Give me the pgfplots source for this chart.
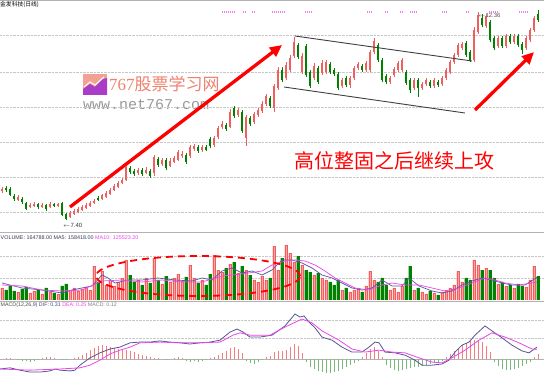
\documentclass[border=0pt]{standalone}
\usepackage{pgfplots}
\pgfplotsset{compat=1.18}
\usepackage{pgfplotstable}
\usetikzlibrary{arrows.meta}
\usepackage{fontspec}
\setmainfont{Liberation Sans}
\newfontfamily\cjk{Noto Sans CJK SC}
\newfontfamily\monof{Liberation Mono}
\newfontfamily\seriff{Liberation Serif}
\definecolor{cred}{RGB}{240,95,95}
\definecolor{cpink}{RGB}{255,160,160}
\definecolor{cgreen}{RGB}{0,130,0}
\definecolor{cmg}{RGB}{235,70,235}
\definecolor{cnavy}{RGB}{90,90,160}
\definecolor{cgrid}{RGB}{200,200,200}
\definecolor{mgreen}{RGB}{120,185,120}
\definecolor{mred}{RGB}{245,125,125}
\definecolor{wm}{RGB}{238,130,110}
\definecolor{logop}{RGB}{170,60,200}
\definecolor{voltxt}{RGB}{60,60,90}
\definecolor{difc}{RGB}{85,85,145}
\definecolor{diftxt}{RGB}{70,70,120}

\pgfplotstableread{
i o h l c v
0 8.10 8.19 8.05 8.14 84000
4 7.88 8.00 7.86 7.95 56000
7 7.71 7.81 7.69 7.76 49000
8 7.74 7.83 7.71 7.78 63000
10 7.71 7.81 7.69 7.76 42000
12 7.71 7.83 7.69 7.78 56000
14 7.74 7.81 7.71 7.78 42000
17 7.47 7.62 7.45 7.57 70000
18 7.54 7.66 7.52 7.62 84000
19 7.59 7.71 7.57 7.66 63000
20 7.64 7.76 7.62 7.71 77000
21 7.69 7.81 7.66 7.76 91000
22 7.74 7.86 7.71 7.81 70000
23 7.81 7.90 7.78 7.86 238000
25 7.90 8.02 7.88 8.00 203000
26 7.95 8.10 7.93 8.05 105000
27 8.02 8.17 8.00 8.12 140000
28 8.12 8.26 8.10 8.22 98000
29 8.19 8.34 8.17 8.29 126000
30 8.29 8.41 8.26 8.36 154000
31 8.36 8.72 8.34 8.67 280000
34 8.53 8.65 8.48 8.60 140000
36 8.53 8.67 8.50 8.60 154000
38 8.53 8.96 8.46 8.91 294000
40 8.74 8.89 8.70 8.84 112000
42 8.70 8.89 8.67 8.82 126000
43 8.79 8.94 8.77 8.89 154000
44 8.84 9.08 8.82 9.03 182000
45 8.94 9.06 8.89 8.98 133000
47 8.94 9.20 8.89 9.15 245000
48 9.10 9.22 9.06 9.18 154000
50 9.08 9.20 9.03 9.15 140000
53 9.20 9.42 9.15 9.37 315000
54 9.39 9.66 9.34 9.61 210000
55 9.63 9.78 9.58 9.70 196000
57 9.63 10.06 9.61 9.99 252000
59 9.92 10.09 9.87 10.04 189000
61 9.37 9.92 9.18 9.87 210000
63 9.75 9.99 9.70 9.94 140000
64 9.92 10.09 9.87 10.04 126000
65 10.02 10.26 9.97 10.18 168000
66 10.18 10.42 10.14 10.38 140000
68 10.09 10.66 9.99 10.62 378000
69 10.57 11.07 10.52 11.00 210000
71 10.81 11.19 10.76 11.12 385000
72 11.00 11.36 10.95 11.29 329000
73 11.34 11.79 11.29 11.67 266000
75 10.95 11.41 10.90 11.34 245000
78 10.81 11.17 10.76 11.10 175000
80 10.93 11.24 10.88 11.17 154000
81 10.95 11.24 10.90 11.19 140000
85 10.62 10.81 10.57 10.76 70000
87 10.64 10.86 10.57 10.81 56000
88 10.81 11.10 10.76 11.05 70000
89 11.05 11.19 11.00 11.14 84000
91 11.00 11.22 10.95 11.17 98000
92 11.00 11.48 10.95 11.43 203000
93 11.43 11.77 11.38 11.70 140000
97 10.71 10.86 10.66 10.81 70000
98 10.88 11.07 10.83 11.02 84000
99 11.00 11.22 10.95 11.17 56000
100 11.00 11.29 10.95 11.24 98000
103 10.57 10.81 10.52 10.76 70000
105 10.57 10.71 10.52 10.66 56000
106 10.66 10.81 10.62 10.76 42000
108 10.62 10.81 10.57 10.76 49000
110 10.66 10.86 10.62 10.81 56000
111 10.81 11.05 10.76 11.00 70000
112 10.95 11.24 10.90 11.19 84000
113 11.19 11.41 11.14 11.36 105000
114 11.36 11.65 11.31 11.60 203000
115 11.53 11.67 11.48 11.62 126000
118 11.24 12.03 11.19 11.96 280000
119 11.91 12.39 11.86 12.32 245000
121 12.06 12.34 12.01 12.30 224000
124 11.58 11.82 11.53 11.77 112000
126 11.58 11.86 11.53 11.82 98000
128 11.67 11.86 11.62 11.82 84000
131 11.53 11.82 11.48 11.77 91000
132 11.72 12.01 11.67 11.96 140000
133 11.96 12.30 11.91 12.25 238000
}\up

\pgfplotstableread{
i o h l c v
1 8.17 8.22 8.07 8.12 70000
2 8.14 8.19 7.98 8.00 98000
3 7.98 8.02 7.86 7.90 63000
5 7.90 7.95 7.78 7.83 77000
6 7.81 7.83 7.64 7.66 91000
9 7.78 7.81 7.66 7.71 70000
11 7.76 7.78 7.62 7.66 84000
13 7.78 7.81 7.71 7.74 49000
15 7.81 7.83 7.50 7.52 98000
16 7.54 7.57 7.40 7.42 112000
24 7.93 7.98 7.86 7.88 126000
32 8.65 8.70 8.50 8.55 175000
33 8.58 8.62 8.46 8.50 126000
35 8.60 8.65 8.46 8.50 105000
37 8.58 8.62 8.41 8.46 119000
39 8.86 8.91 8.67 8.72 140000
41 8.84 8.89 8.60 8.65 168000
46 8.96 9.01 8.74 8.79 161000
49 9.15 9.20 9.01 9.06 119000
51 9.15 9.20 9.06 9.08 105000
52 9.34 9.39 9.13 9.18 182000
56 9.68 9.73 9.54 9.58 224000
58 10.09 10.14 9.85 9.90 266000
60 9.99 10.04 9.49 9.54 238000
62 9.85 9.90 9.66 9.70 175000
67 10.33 10.38 10.09 10.14 154000
70 11.00 11.07 10.71 10.76 294000
74 11.60 11.65 11.26 11.31 308000
76 11.58 11.62 10.83 10.88 210000
77 10.95 11.00 10.57 10.62 196000
79 11.05 11.10 10.66 10.71 189000
82 11.14 11.19 10.90 10.95 126000
83 11.00 11.05 10.86 10.90 105000
84 10.90 10.95 10.52 10.57 140000
86 10.81 10.86 10.59 10.64 84000
90 11.10 11.14 10.95 11.00 56000
94 11.60 11.65 11.19 11.24 126000
95 11.24 11.29 10.71 10.76 154000
96 10.86 10.90 10.66 10.71 105000
101 10.95 11.00 10.64 10.69 154000
102 10.76 10.81 10.45 10.52 238000
104 10.76 10.81 10.35 10.57 84000
107 10.71 10.76 10.57 10.62 63000
109 10.71 10.76 10.59 10.64 35000
116 11.65 11.70 11.31 11.36 154000
117 11.43 11.48 11.19 11.24 140000
120 12.25 12.34 12.03 12.08 210000
122 12.15 12.20 11.67 11.72 210000
123 11.77 11.82 11.48 11.53 154000
125 11.77 11.82 11.53 11.58 126000
127 11.82 11.86 11.62 11.67 105000
129 11.82 11.86 11.55 11.60 112000
130 11.62 11.67 11.38 11.48 98000
134 12.34 12.44 12.15 12.20 164788
}\dn

\pgfplotstableread{
i m
0 0
1 0.03
2 0.03
3 0
4 -0.03
5 -0.05
6 -0.05
7 -0.08
8 -0.05
9 -0.03
10 0.03
11 0.05
12 0.05
13 0.03
14 0
15 -0.03
16 -0.03
17 0
18 0.03
19 0.05
20 0.10
21 0.16
22 0.23
23 0.29
24 0.34
25 0.36
26 0.34
27 0.31
28 0.29
29 0.26
30 0.26
31 0.23
32 0.21
33 0.18
34 0.13
35 0.10
36 0.08
37 0.05
38 0.03
39 0.03
40 0
41 -0.03
42 0
43 0.03
44 0.05
45 0.03
46 -0.05
47 -0.08
48 -0.05
49 -0.08
50 -0.05
51 -0.03
52 0.03
53 0.05
54 0.10
55 0.16
56 0.21
57 0.29
58 0.31
59 0.26
60 0.16
61 -0.05
62 -0.10
63 -0.13
64 -0.08
65 -0.03
66 0.05
67 0.08
68 0.18
69 0.21
70 0.21
71 0.23
72 0.31
73 0.39
74 0.34
75 0.16
76 -0.08
77 -0.21
78 -0.26
79 -0.31
80 -0.34
81 -0.36
82 -0.36
83 -0.34
84 -0.31
85 -0.26
86 -0.21
87 -0.16
88 -0.10
89 -0.05
90 0.05
91 0.16
92 0.26
93 0.31
94 0.21
95 0.05
96 -0.16
97 -0.23
98 -0.29
99 -0.31
100 -0.29
101 -0.26
102 -0.23
103 -0.21
104 -0.21
105 -0.18
106 -0.16
107 -0.13
108 -0.10
109 -0.08
110 -0.05
111 0.05
112 0.13
113 0.21
114 0.29
115 0.36
116 0.42
117 0.47
118 0.49
119 0.49
120 0.44
121 0.34
122 0.18
123 -0.08
124 -0.18
125 -0.26
126 -0.29
127 -0.29
128 -0.26
129 -0.23
130 -0.18
131 -0.13
132 -0.08
133 0.05
134 0.12
}\macd

\pgfplotsset{panel/.style={scale only axis, width=544pt, xmin=-0.5, xmax=135.5,
  axis line style={draw=none}, xtick=\empty, ymajorticks=false,
  ymajorgrids, grid style={cgrid, densely dotted, line width=0.5pt}, anchor=south west,
  scaled y ticks=false},
  candle/.style={draw=none, mark=none, forget plot, error bars/.cd, y dir=plus, y explicit, error mark=none,
  error bar style={solid, line width=#1}}}

\begin{document}
\begin{tikzpicture}
\path[use as bounding box] (0pt,0pt) rectangle (544pt,378pt);
\fill[white] (0pt,0pt) rectangle (544pt,378pt);

% watermark
\fill[wm!75] (83pt,283pt) rectangle (107pt,304pt);
\fill[logop] (83pt,283pt) -- (83pt,289pt) -- (90pt,294pt) -- (95pt,291pt) -- (103pt,299pt) -- (107pt,300pt) -- (107pt,283pt) -- cycle;
\draw[white, line width=1pt] (84pt,291pt) -- (90pt,296pt) -- (95pt,293pt) -- (104pt,301pt);
\node[anchor=west, inner sep=0pt, text=wm] at (109pt,294pt) {\fontsize{17pt}{17pt}\selectfont{\seriff 767}{\cjk 股票学习网}};
\node[anchor=west, inner sep=0pt, text=black!40] at (83pt,273pt) {\monof\fontsize{15pt}{15pt}\selectfont www.net767.com};

% price panel
\begin{axis}[panel, at={(0pt,146pt)}, height=232pt, ymin=7.112, ymax=12.68,
  ytick={7.592,8.432,9.272,10.112,10.952,11.84}]
\addplot[candle=0.6pt, error bar style={draw=cred}] table[x=i, y=l, y error expr=\thisrow{h}-\thisrow{l}] {\up};
\addplot[candle=2.7pt, error bar style={draw=cred}] table[x=i, y=o, y error expr=\thisrow{c}-\thisrow{o}] {\up};
\addplot[candle=0.6pt, error bar style={draw=cgreen}] table[x=i, y=l, y error expr=\thisrow{h}-\thisrow{l}] {\dn};
\addplot[candle=2.7pt, error bar style={draw=cgreen}] table[x=i, y=c, y error expr=\thisrow{o}-\thisrow{c}] {\dn};
% channel lines
\addplot[black!75, line width=0.9pt] coordinates {(73.25,11.816) (117.5,11.216)};
\addplot[black!75, line width=0.9pt] coordinates {(70.5,10.592) (115.75,9.968)};
% arrows
\addplot[red, line width=3.3pt, -{Triangle[length=12pt,width=11pt]}] coordinates {(17,7.712) (70,11.60)};
\addplot[red, line width=3.3pt, -{Triangle[length=12pt,width=11pt]}] coordinates {(118.25,10.04) (133,11.43)};
\end{axis}

% volume panel
\begin{axis}[panel, at={(0pt,78pt)}, height=67pt, ymin=0, ymax=469000, ytick={154000,308000}]
\addplot[ybar, bar width=2.6pt, bar shift=0pt, fill=cpink, draw=cred, line width=0.3pt] table[x=i, y=v] {\up};
\addplot[ybar, bar width=2.6pt, bar shift=0pt, fill=cgreen, draw=cgreen, line width=0.3pt] table[x=i, y=v] {\dn};
\addplot[cnavy, line width=0.7pt] coordinates {(0,119000) (5,84000) (10,70000) (15,49000) (17.5,70000) (20,84000) (22.5,98000) (25,175000) (26.5,154000) (28.25,119000) (31.5,140000) (35,140000) (39,154000) (43.25,140000) (47.5,133000) (50,154000) (52.5,140000) (55,203000) (57.5,224000) (60,189000) (62.5,203000) (65,175000) (67.5,210000) (70,280000) (72.5,280000) (75,259000) (77.5,224000) (80,175000) (82.5,154000) (85,119000) (87.5,84000) (90,70000) (92.5,84000) (95,140000) (97.5,98000) (100,98000) (101.75,154000) (104.25,98000) (107.5,63000) (110,49000) (112.5,63000) (115,105000) (117.5,133000) (120,154000) (122.5,140000) (125,119000) (127.5,105000) (130.75,105000) (133.75,158418)};
\addplot[cmg, line width=0.7pt] coordinates {(0,105000) (5,98000) (10,70000) (15,63000) (20,70000) (25,133000) (30,140000) (35,126000) (40,140000) (45,126000) (50,126000) (55,168000) (60,182000) (65,203000) (67.5,245000) (70.75,273000) (73.25,280000) (75.75,273000) (78.25,245000) (80.75,203000) (83.25,154000) (85.75,119000) (88.25,84000) (91.75,70000) (95,105000) (97.5,119000) (100.75,105000) (104.25,105000) (107.5,84000) (110.75,63000) (114.25,84000) (117.5,119000) (120.75,154000) (123.25,140000) (125.75,119000) (129.25,105000) (133.75,125523)};
\end{axis}

% MACD panel
\begin{axis}[panel, at={(0pt,0pt)}, height=76pt, ymin=-0.494, ymax=1.482, ytick={0.546,1.014}]
\addplot[black!30, line width=0.5pt, forget plot] coordinates {(-0.5,0) (135.5,0)};
\addplot[ycomb, mred, line width=0.9pt, restrict y to domain=0.001:5] table[x=i, y=m] {\macd};
\addplot[ycomb, mgreen, line width=0.9pt, restrict y to domain=-5:-0.001] table[x=i, y=m] {\macd};
\addplot[difc, line width=0.8pt] coordinates {(-0.5,-0.26) (2,-0.23) (4.5,-0.29) (7,-0.34) (9.5,-0.34) (12,-0.31) (13.25,-0.26) (14.5,-0.29) (17,-0.31) (18.25,-0.29) (19.5,-0.16) (22,0.03) (24.5,0.16) (27,0.26) (29.5,0.31) (32,0.42) (34.5,0.44) (37,0.44) (39.5,0.47) (42,0.44) (44.5,0.42) (47,0.39) (49.5,0.42) (52,0.44) (54.5,0.49) (57,0.70) (58.75,0.78) (60.25,0.70) (62,0.57) (64.5,0.57) (67.5,0.62) (69.25,0.75) (70.75,0.86) (73.25,1.17) (74.5,1.09) (75.5,1.12) (76.75,0.96) (78.25,0.81) (80,0.57) (82.5,0.49) (85,0.31) (87.5,0.18) (90,0.18) (91.75,0.31) (93.25,0.44) (94.25,0.42) (95.75,0.18) (98.25,0.16) (100.75,0.10) (103.25,-0.03) (105,-0.16) (107.5,-0.16) (110,-0.13) (111.75,-0.03) (113.25,0.18) (115,0.36) (116.75,0.44) (118.25,0.62) (120.75,0.86) (122.5,0.73) (125,0.55) (127.5,0.36) (130,0.21) (131.75,0.16) (133.75,0.31)};
\addplot[cmg, line width=0.8pt] coordinates {(-0.5,-0.26) (7,-0.29) (14.5,-0.26) (19.5,-0.23) (22,-0.16) (24.5,-0.03) (27,0.13) (29.5,0.23) (32,0.31) (34.5,0.42) (39.5,0.44) (44.5,0.42) (49.5,0.42) (54.5,0.44) (57.75,0.62) (59.5,0.68) (62,0.62) (67,0.62) (70.75,0.83) (75,1.04) (77.5,0.94) (80,0.73) (84.25,0.49) (87.5,0.26) (90.75,0.18) (94.25,0.23) (97.5,0.18) (100.75,0.16) (104.25,0.03) (107.5,-0.08) (110,-0.10) (112.5,0.03) (115.75,0.23) (119.25,0.49) (122.5,0.68) (125.75,0.57) (129.25,0.42) (132.5,0.26) (133.75,0.25)};
\end{axis}

% panel borders
\draw[black!30, line width=0.8pt] (0pt,377.6pt) -- (544pt,377.6pt);
\draw[black!30, line width=0.8pt] (0pt,145.5pt) -- (544pt,145.5pt);
\draw[black!30, line width=0.8pt] (0pt,77pt) -- (544pt,77pt);

% top markers
\foreach \a/\b in {222/235,243/246,252/255,272/285,305/312,367/372,385/388,400/404,410/417,442/447,466/469,489/499,519/529}
  \draw[cmg!70, line width=1.6pt, dash pattern=on 1.2pt off 0.8pt] (\a pt,366pt) -- (\b pt,366pt);

% texts
\node[anchor=north west, inner sep=0pt] at (0pt,376.5pt) {\cjk\fontsize{5.8pt}{6pt}\selectfont 金发科技(日线)};
\node[anchor=west, inner sep=0pt, text=black!80] at (63pt,153pt) {\fontsize{6pt}{6pt}\selectfont $\leftarrow$7.40};
\node[anchor=west, inner sep=0pt, text=black!65] at (478pt,363pt) {\fontsize{6pt}{6pt}\selectfont $\leftarrow$12.36};
\node[inner sep=0pt, text=red] at (394pt,217pt) {\cjk\fontsize{20pt}{20pt}\selectfont 高位整固之后继续上攻};
\node[anchor=west, inner sep=0pt] at (0.5pt,140pt) {\fontsize{5.4pt}{6pt}\selectfont \textcolor{voltxt}{VOLUME: 164788.00 MA5: 158418.00} \textcolor{cmg}{MA10: 125523.20}};
\node[anchor=west, inner sep=0pt] at (0.5pt,73pt) {\fontsize{5.3pt}{6pt}\selectfont \textcolor{black!70}{MACD(12,26,9)} \textcolor{diftxt}{DIF: 0.31} \textcolor{cmg}{DEA: 0.25} \textcolor{black!50}{MACD: 0.12}};

% dashed ellipse
\draw[red, line width=1.8pt, dash pattern=on 7pt off 5pt] (198pt,102pt) ellipse (102pt and 20pt);
\end{tikzpicture}
\end{document}
